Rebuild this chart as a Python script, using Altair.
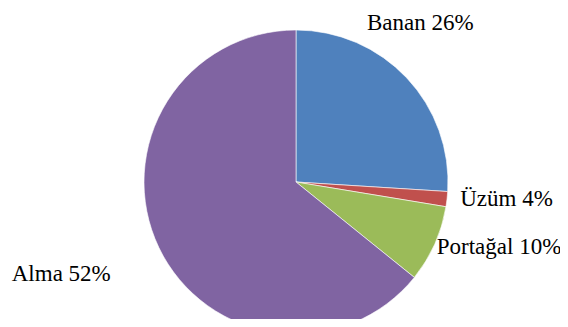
import math
import altair as alt
import pandas as pd

categories = ["Banan", "Üzüm", "Portağal", "Alma"]
values = [26.0, 1.6, 8.2, 64.2]          # slice sizes
label_texts = ["Banan 26%", "Üzüm 4%", "Portağal 10%", "Alma 52%"]
colors = ["#4F81BD", "#C0504D", "#9BBB59", "#8064A2"]

# label layout (angle in degrees clockwise from top, distance in px)
label_angle = [25.0, 98.3, 117.0, 250.8]
label_dist = [168, 166, 158, 301]

df = pd.DataFrame({"cat": categories, "val": values, "idx": range(len(values))})
lab = pd.DataFrame({
    "text": label_texts,
    "ang": [math.radians(a) for a in label_angle],
    "r": label_dist,
})

cx, cy = 288, 174

pie = alt.Chart(df).mark_arc(radius=152, stroke="white", strokeWidth=0.6).encode(
    theta=alt.Theta("val:Q", stack=True),
    color=alt.Color("cat:N", scale=alt.Scale(domain=categories, range=colors), legend=None),
    order=alt.Order("idx:Q"),
    x=alt.value(cx),
    y=alt.value(cy),
)

labels = alt.Chart(lab).mark_text(
    font="Liberation Serif", fontSize=23,
    align="left", baseline="alphabetic", color="black"
).encode(
    theta=alt.Theta("ang:Q", scale=None),
    radius=alt.Radius("r:Q", scale=None),
    text="text:N",
    x=alt.value(cx),
    y=alt.value(cy),
)

chart = alt.layer(pie, labels).properties(
    width=552, height=311, autosize=alt.AutoSizeParams(type="none"), padding=0
).configure_view(stroke=None)

chart.save("out.html", embed_options={"renderer": "svg", "actions": False})
